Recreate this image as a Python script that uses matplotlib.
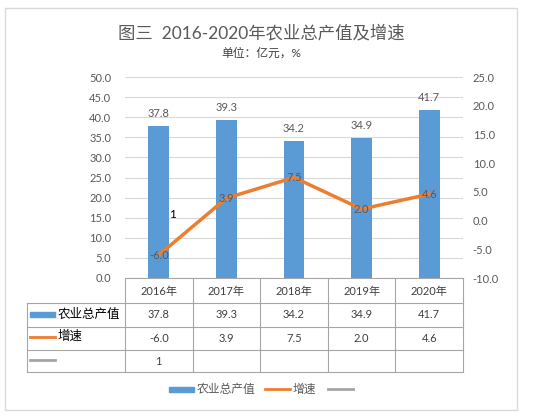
import matplotlib
matplotlib.use('Agg')
from matplotlib import pyplot as plt
from matplotlib.transforms import blended_transform_factory
from matplotlib.patches import Rectangle
from matplotlib.lines import Line2D

plt.rcParams['font.family'] = ['Lato', 'Noto Sans CJK SC', 'DejaVu Sans']

years = ['2016年', '2017年', '2018年', '2019年', '2020年']
output_value = [37.8, 39.3, 34.2, 34.9, 41.7]
growth_rate = [-6.0, 3.9, 7.5, 2.0, 4.6]
third_series = [1]
output_name = '农业总产值'
growth_name = '增速'

BLUE = '#5b9bd5'
ORANGE = '#ed7d31'
GREY = '#a5a5a5'
TXT = '#595959'
GRID = '#d9d9d9'
TBL = '#a6a6a6'

W, H = 546, 419
fig = plt.figure(figsize=(W / 100, H / 100), dpi=100)


def fx(px):
    return px / W


def fy(py):
    return 1 - py / H


# outer chart border
fig.patches.append(Rectangle((fx(5), fy(410)), fx(512), (402) / H, transform=fig.transFigure,
                             fill=False, edgecolor=GRID, linewidth=1))

fig.text(fx(261), fy(33), '图三  2016-2020年农业总产值及增速', ha='center', va='center',
         fontsize=12.5, color=TXT)
fig.text(fx(261), fy(53), '单位：亿元，%', ha='center', va='center', fontsize=8.5, color='#404040')

ax = fig.add_axes([fx(125), fy(278), fx(463) - fx(125), (278 - 77) / H])
ax2 = ax.twinx()

x = list(range(len(years)))
ax.bar(x, output_value, width=0.31, color=BLUE, zorder=2)
for xi, v in zip(x, output_value):
    ax.annotate(f'{v:.1f}', (xi, v), xytext=(0, 5), textcoords='offset points',
                ha='center', va='bottom', fontsize=8, color=TXT)

ax2.plot(x, growth_rate, color=ORANGE, linewidth=2.5, zorder=3)
for xi, v in zip(x, growth_rate):
    ax2.text(xi, v, f'{v:.1f}', ha='center', va='center', fontsize=8, color=TXT, zorder=4)
ax2.plot(x[:1], third_series, color=GREY, linewidth=2.5)
ax2.annotate(str(third_series[0]), (x[0], third_series[0]), xytext=(10, 0),
             textcoords='offset points', ha='center', va='center', fontsize=8.5, color='black')

ax.set_xlim(-0.5, len(years) - 0.5)
ax.set_ylim(0, 50)
ax.set_yticks([i * 5 for i in range(11)])
ax.set_yticklabels([f'{i * 5:.1f}' for i in range(11)])
ax2.set_ylim(-10, 25)
ax2.set_yticks([-10 + i * 5 for i in range(8)])
ax2.set_yticklabels([f'{-10 + i * 5:.1f}' for i in range(8)])
ax.grid(axis='y', color=GRID, linewidth=0.8, zorder=0)
ax.set_axisbelow(True)
ax.set_xticks([])
for a in (ax, ax2):
    for s in a.spines.values():
        s.set_visible(False)
    a.tick_params(axis='y', length=0, labelsize=8, labelcolor=TXT)
ax.tick_params(axis='y', pad=10)
ax.spines['bottom'].set_visible(True)
ax.spines['bottom'].set_color(TBL)
ax2.tick_params(axis='y', pad=7)

# data table below the plot
tr = blended_transform_factory(ax.transData, fig.transFigure)
rows_y = [278, 303, 327, 350, 372]
bounds = [i - 0.5 for i in range(len(years) + 1)]
for b in bounds:
    fig.add_artist(Line2D([b, b], [fy(278), fy(372)], transform=tr, color=TBL, linewidth=0.8))
fig.add_artist(Line2D([fx(27), fx(27)], [fy(303), fy(372)], transform=fig.transFigure,
                      color=TBL, linewidth=0.8))
for ry in rows_y[1:]:
    fig.add_artist(Line2D([fx(27), fx(463)], [fy(ry), fy(ry)], transform=fig.transFigure,
                          color=TBL, linewidth=0.8))

for xi, yr in zip(x, years):
    fig.text(xi, fy(291), yr, transform=tr, ha='center', va='center', fontsize=8, color='#404040')
for xi, v in zip(x, output_value):
    fig.text(xi, fy(315), f'{v:.1f}', transform=tr, ha='center', va='center', fontsize=8, color='#404040')
for xi, v in zip(x, growth_rate):
    fig.text(xi, fy(338.5), f'{v:.1f}', transform=tr, ha='center', va='center', fontsize=8, color='#404040')
for xi, v in zip(x, third_series):
    fig.text(xi, fy(361), str(v), transform=tr, ha='center', va='center', fontsize=8, color='#404040')

# series keys in the table
fig.patches.append(Rectangle((fx(30), fy(317)), fx(25), 5 / H, transform=fig.transFigure,
                             color=BLUE))
fig.text(fx(58), fy(314), output_name, ha='left', va='center', fontsize=9, color='black')
fig.add_artist(Line2D([fx(30), fx(55)], [fy(337), fy(337)], transform=fig.transFigure,
                      color=ORANGE, linewidth=2))
fig.text(fx(58), fy(336), growth_name, ha='left', va='center', fontsize=9, color='black')
fig.add_artist(Line2D([fx(30), fx(55)], [fy(360), fy(360)], transform=fig.transFigure,
                      color=GREY, linewidth=2))

# legend at the bottom
fig.patches.append(Rectangle((fx(169), fy(392)), fx(25), 5 / H, transform=fig.transFigure,
                             color=BLUE))
fig.text(fx(197), fy(389), output_name, ha='left', va='center', fontsize=8.5, color=TXT)
fig.add_artist(Line2D([fx(265), fx(290)], [fy(389), fy(389)], transform=fig.transFigure,
                      color=ORANGE, linewidth=2))
fig.text(fx(293), fy(389), growth_name, ha='left', va='center', fontsize=8.5, color=TXT)
fig.add_artist(Line2D([fx(328), fx(353)], [fy(389), fy(389)], transform=fig.transFigure,
                      color=GREY, linewidth=2))

fig.savefig('out.png', dpi=100)
